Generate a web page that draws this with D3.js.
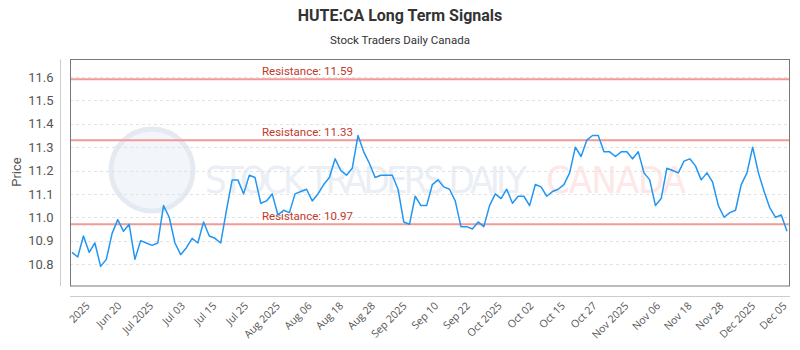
<!DOCTYPE html>
<html>
<head>
<meta charset="utf-8">
<script src="https://cdn.jsdelivr.net/npm/d3@7"></script>
<style>
  body { margin: 0; background: #fff; }
  svg { display: block; font-family: Roboto, "Open Sans", sans-serif; }
</style>
</head>
<body>
<div id="chart"></div>
<script>
// daily closes
const prices = [
  10.85, 10.83, 10.92, 10.85, 10.89, 10.79, 10.82, 10.93, 10.99, 10.94, 10.97,
  10.82, 10.90, 10.89, 10.88, 10.89, 11.05, 11.00, 10.89, 10.84, 10.87, 10.91,
  10.89, 10.98, 10.92, 10.91, 10.89, 11.03, 11.16, 11.16, 11.10, 11.18, 11.17,
  11.06, 11.07, 11.10, 11.01, 11.03, 11.02, 11.10, 11.11, 11.12, 11.07,
  11.10, 11.14, 11.17, 11.25, 11.20, 11.18, 11.21, 11.35, 11.28, 11.23, 11.17,
  11.18, 11.18, 11.18, 11.12, 10.98, 10.97, 11.09, 11.05, 11.05, 11.14,
  11.16, 11.13, 11.12, 11.07, 10.96, 10.96, 10.95, 10.98, 10.96, 11.05, 11.10,
  11.08, 11.12, 11.06, 11.09, 11.09, 11.05, 11.14, 11.13, 11.09, 11.11,
  11.12, 11.14, 11.19, 11.30, 11.26, 11.33, 11.35, 11.35, 11.28, 11.28, 11.26,
  11.28, 11.28, 11.25, 11.28, 11.19, 11.16, 11.05, 11.08, 11.21, 11.20,
  11.19, 11.24, 11.25, 11.22, 11.16, 11.19, 11.15, 11.05, 11.00, 11.02, 11.03,
  11.14, 11.19, 11.30, 11.19, 11.11, 11.04, 11.00, 11.01, 10.94
];

const resistance = [11.59, 11.33, 10.97];

const xTickLabels = [
  "2025", "Jun 20", "Jul 2025", "Jul 03", "Jul 15", "Jul 25", "Aug 2025",
  "Aug 06", "Aug 18", "Aug 28", "Sep 2025", "Sep 10", "Sep 22", "Oct 2025",
  "Oct 02", "Oct 15", "Oct 27", "Nov 2025", "Nov 06", "Nov 18", "Nov 28",
  "Dec 2025", "Dec 05"
];

const yTicks = [10.8, 10.9, 11.0, 11.1, 11.2, 11.3, 11.4, 11.5, 11.6];

const width = 800, height = 350;
const plot = { left: 70, right: 790, top: 59.5, bottom: 286 };

const svg = d3.select("#chart").append("svg")
  .attr("width", width)
  .attr("height", height);

const x = d3.scaleLinear()
  .domain([0, prices.length - 1])
  .range([72, 787]);

const y = d3.scaleLinear()
  .domain([10.706, 11.675])
  .range([plot.bottom, plot.top]);

const xTick = d3.scalePoint()
  .domain(xTickLabels)
  .range([88, 785]);

// titles
svg.append("text")
  .attr("x", 400).attr("y", 21)
  .attr("text-anchor", "middle")
  .attr("font-size", 16).attr("font-weight", "bold")
  .attr("fill", "#333")
  .text("HUTE:CA Long Term Signals");

svg.append("text")
  .attr("x", 400).attr("y", 44)
  .attr("text-anchor", "middle")
  .attr("font-size", 11.5)
  .attr("fill", "#333")
  .text("Stock Traders Daily Canada");

// watermark: stretch each word group to its width with letter-spacing
const wm = svg.append("g").attr("pointer-events", "none");
wm.append("circle")
  .attr("cx", 152).attr("cy", 170).attr("r", 41)
  .attr("fill", "#f2f5fa")
  .attr("stroke", "#e5eaf2").attr("stroke-width", 5);

const fitText = (sel, target) => {
  const txt = sel.text();
  const natural = sel.node().getComputedTextLength();
  sel.attr("letter-spacing", (target - natural) / (txt.length - 1));
};

wm.append("text")
  .attr("x", 205).attr("y", 193)
  .attr("font-family", "'DejaVu Sans Condensed', 'Liberation Sans Narrow', sans-serif")
  .attr("font-size", 38)
  .attr("fill", "#eaeef5")
  .text("STOCK TRADERS DAILY")
  .call(fitText, 322);
wm.append("text")
  .attr("x", 546).attr("y", 193)
  .attr("font-family", "'DejaVu Sans Condensed', 'Liberation Sans Narrow', sans-serif")
  .attr("font-size", 38)
  .attr("fill", "#fde7e7")
  .text("CANADA")
  .call(fitText, 140);

// grid
svg.append("g")
  .selectAll("line")
  .data(yTicks)
  .join("line")
  .attr("x1", plot.left).attr("x2", plot.right)
  .attr("y1", d => Math.round(y(d)) + 0.5)
  .attr("y2", d => Math.round(y(d)) + 0.5)
  .attr("stroke", "#e2e2e2")
  .attr("stroke-dasharray", "3,3");

// y axis
const yAxis = svg.append("g")
  .attr("transform", `translate(60.5,0)`)
  .call(d3.axisLeft(y).tickValues(yTicks).tickFormat(d3.format(".1f")).tickSize(0).tickPadding(7));
yAxis.select(".domain").attr("stroke", "#ccc")
  .attr("d", `M0,${plot.top}V${plot.bottom}`);
yAxis.selectAll("text")
  .attr("font-size", 13).attr("fill", "#555")
  .attr("font-family", "Roboto, sans-serif");

svg.append("text")
  .attr("transform", "translate(21,172) rotate(-90)")
  .attr("text-anchor", "middle")
  .attr("font-size", 13).attr("fill", "#555")
  .text("Price");

// x axis
svg.append("line")
  .attr("x1", plot.left).attr("x2", plot.right)
  .attr("y1", 296.5).attr("y2", 296.5)
  .attr("stroke", "#ccc");

svg.append("g")
  .selectAll("text")
  .data(xTickLabels)
  .join("text")
  .attr("transform", d => `translate(${xTick(d)},304) rotate(-45)`)
  .attr("text-anchor", "end")
  .attr("dy", "0.35em")
  .attr("font-family", "'Open Sans', sans-serif")
  .attr("font-size", 10.5).attr("fill", "#555")
  .text(d => d);

// resistance lines
svg.append("g")
  .selectAll("line")
  .data(resistance)
  .join("line")
  .attr("x1", plot.left).attr("x2", plot.right)
  .attr("y1", d => y(d)).attr("y2", d => y(d))
  .attr("stroke", "#f19a96").attr("stroke-width", 2);

svg.append("g")
  .selectAll("text")
  .data(resistance)
  .join("text")
  .attr("x", 262)
  .attr("y", d => y(d) - 4)
  .attr("font-size", 11.5)
  .attr("fill", "#c0392b")
  .text(d => `Resistance: ${d.toFixed(2)}`);

// price line
const line = d3.line()
  .x((d, i) => x(i))
  .y(d => y(d));

svg.append("path")
  .datum(prices)
  .attr("fill", "none")
  .attr("stroke", "#2196f3")
  .attr("stroke-width", 1.5)
  .attr("stroke-linejoin", "round")
  .attr("d", line);

// frame
svg.append("rect")
  .attr("x", plot.left + 0.5).attr("y", plot.top)
  .attr("width", plot.right - plot.left - 1)
  .attr("height", plot.bottom - plot.top)
  .attr("fill", "none")
  .attr("stroke", "#777");
</script>
</body>
</html>
